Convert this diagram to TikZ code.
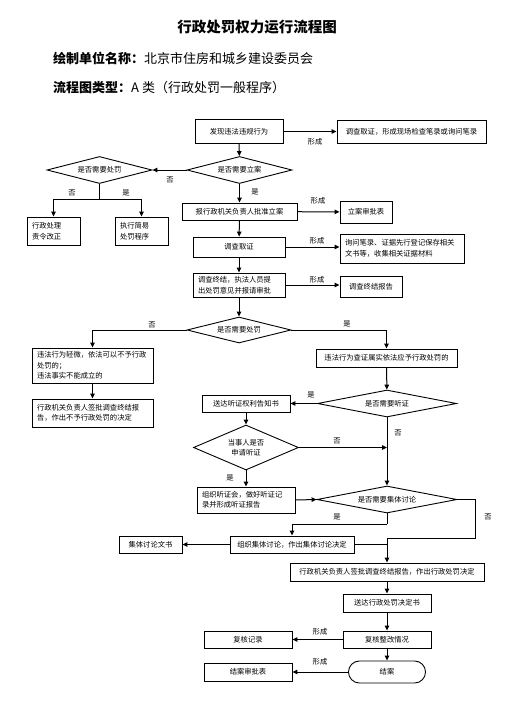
\documentclass[tikz,border=0pt]{standalone}
\usepackage{fontspec}
\setmainfont{Noto Sans CJK SC}
\usetikzlibrary{shapes.geometric,arrows.meta}
\tikzset{
 txt/.style={font=\fontsize{7.3}{10.5}\selectfont},
 box/.style={txt,draw,line width=0.9pt,inner sep=0pt,align=center},
 lbox/.style={txt,draw,line width=0.9pt,inner xsep=5pt,inner ysep=0pt,align=left},
 dia/.style={txt,draw,diamond,aspect=3.5,line width=0.9pt,inner sep=0pt,align=center},
 lab/.style={font=\fontsize{7.3}{9}\selectfont,inner sep=0pt},
 arr/.style={-{Triangle[length=5pt,width=4.5pt]},line width=1pt},
 ln/.style={line width=1pt}
}
\begin{document}
\begin{tikzpicture}[x=1pt,y=-1pt]
\useasboundingbox[fill=white] (0,0) rectangle (514,704);
% header
\node[font=\bfseries\fontsize{14.5}{16}\selectfont] (title) at (257,27) {行政处罚权力运行流程图};
\node[anchor=west,font=\fontsize{13}{15}\selectfont,inner sep=0pt] (h1) at (53,58) {\textbf{绘制单位名称：}北京市住房和城乡建设委员会};
\node[anchor=west,font=\fontsize{13}{15}\selectfont,inner sep=0pt] (h2) at (53,88) {\textbf{流程图类型：}A 类（行政处罚一般程序）};
% nodes
\node[box,minimum width=88,minimum height=24] (n1) at (239,131.5) {发现违法违规行为};
\node[box,minimum width=149,minimum height=23] (n2) at (411.5,131.5) {调查取证，形成现场检查笔录或询问笔录};
\node[dia,minimum width=105,minimum height=27] (d1) at (239.5,170) {是否需要立案};
\node[dia,minimum width=105,minimum height=27] (d0) at (99.5,170) {是否需要处罚};
\node[lbox,text width=43,minimum height=28] (b1) at (53.5,231) {行政处理\\责令改正};
\node[lbox,text width=43,minimum height=28] (b2) at (141.5,231) {执行简易\\处罚程序};
\node[box,minimum width=115,minimum height=17] (n3) at (239.5,211.5) {报行政机关负责人批准立案};
\node[box,minimum width=52,minimum height=22] (n4) at (366,212) {立案审批表};
\node[box,minimum width=92,minimum height=20] (n5) at (239,247) {调查取证};
\node[lbox,text width=114,minimum height=29] (n6) at (402,248.5) {询问笔录、证据先行登记保存相关\\文书等，收集相关证据材料};
\node[lbox,text width=82,minimum height=24] (n7) at (239,285) {调查终结，执法人员提\\出处罚意见并报请审批};
\node[box,minimum width=62,minimum height=21] (n8) at (371,286.5) {调查终结报告};
\node[dia,minimum width=104,minimum height=26] (d2) at (239,330) {是否需要处罚};
\node[box,minimum width=141,minimum height=18] (n9) at (386.5,358) {违法行为查证属实依法应予行政处罚的};
\node[lbox,text width=111,minimum height=35] (n10) at (92.5,365.5) {违法行为轻微，依法可以不予行政\\处罚的；\\违法事实不能成立的};
\node[lbox,text width=111,minimum height=28] (n11) at (92.5,413) {行政机关负责人签批调查终结报\\告，作出不予行政处罚的决定};
\node[dia,minimum width=139,minimum height=27] (d3) at (387,403.5) {是否需要听证};
\node[box,minimum width=88,minimum height=17] (n12) at (246,403.5) {送达听证权利告知书};
\node[dia,aspect=2.3,minimum width=105,minimum height=45] (d4) at (246,447.5) {当事人是否\\申请听证};
\node[lbox,text width=88,minimum height=26] (n13) at (246,500) {组织听证会，做好听证记\\录并形成听证报告};
\node[dia,minimum width=140,minimum height=27] (d5) at (387,499.5) {是否需要集体讨论};
\node[box,minimum width=124,minimum height=17] (n14) at (292,544.5) {组织集体讨论，作出集体讨论决定};
\node[box,minimum width=63,minimum height=17] (n15) at (150.5,544.5) {集体讨论文书};
\node[box,minimum width=194,minimum height=18] (n16) at (387,572) {行政机关负责人签批调查终结报告，作出行政处罚决定};
\node[box,minimum width=88,minimum height=18] (n17) at (387,603) {送达行政处罚决定书};
\node[box,minimum width=88,minimum height=17] (n18) at (387,639.5) {复核整改情况};
\node[box,minimum width=88,minimum height=17] (n19) at (248,639.5) {复核记录};
\node[box,rounded corners=10.9pt,minimum width=77,minimum height=22] (n20) at (387,672) {结案};
\node[box,minimum width=88,minimum height=18] (n21) at (248,672) {结案审批表};
% coordinates
\coordinate (j1) at (99.5,199);
\coordinate (j2) at (387,524);
\coordinate (j3) at (475,499.5);
\coordinate (j4) at (475,538);
\coordinate (j5) at (387,538);
\coordinate (j6) at (387,544.5);
% connectors
\draw[arr] (n1) -- (n2);
\draw[arr] (n1) -- (d1);
\draw[arr] (d1) -- (d0);
\draw[ln] (d0.south) -- (j1);
\draw[arr] (j1) -| (b1.north);
\draw[arr] (j1) -| (b2.north);
\draw[arr] (d1) -- (n3);
\draw[arr] (n3) -- (n4);
\draw[arr] (n3) -- (n5);
\draw[arr] (n5) -- (n6.west |- n5.east);
\draw[arr] (n5) -- (n7);
\draw[arr] (n7) -- (n8.west |- n7.east);
\draw[arr] (n7) -- (d2);
\draw[arr] (d2.east) -| (n9.north);
\draw[arr] (d2.west) -| (n10.north);
\draw[arr] (n10) -- (n11);
\draw[arr] (n9) -- (d3);
\draw[arr] (d3) -- (n12);
\draw[arr] (d3) -- (d5);
\draw[arr] (n12) -- (d4);
\draw[arr] (d4.east) -- (d4.east -| d3.south);
\draw[arr] (d4) -- (n13);
\draw[arr] (n13.east) -- (d5.west);
\draw[ln] (d5.south) -- (j2);
\draw[arr] (j2) -| (n14.north);
\draw[ln] (d5.east) -- (j3) -- (j4) -- (j5);
\draw[arr] (j5) -- (n16.north);
\draw[ln] (n14.east) -- (j6);
\draw[arr] (n14) -- (n15);
\draw[arr] (n16) -- (n17);
\draw[arr] (n17) -- (n18);
\draw[arr] (n18) -- (n20);
\draw[arr] (n18) -- (n19);
\draw[arr] (n20) -- (n21);
% labels
\node[lab] (l1) at (315,142) {形成};
\node[lab] (l2) at (170,180) {否};
\node[lab] (l3) at (72,193) {否};
\node[lab] (l4) at (126,193) {是};
\node[lab] (l5) at (255,192) {是};
\node[lab] (l6) at (318,201) {形成};
\node[lab] (l7) at (317,241) {形成};
\node[lab] (l8) at (317,280) {形成};
\node[lab] (l9) at (347,324) {是};
\node[lab] (l10) at (152,325) {否};
\node[lab] (l11) at (311,395) {是};
\node[lab] (l12) at (398,433) {否};
\node[lab] (l13) at (337,441) {否};
\node[lab] (l14) at (230,478) {是};
\node[lab] (l15) at (337,517) {是};
\node[lab] (l16) at (488,517) {否};
\node[lab] (l17) at (320,632) {形成};
\node[lab] (l18) at (320,662) {形成};
\end{tikzpicture}
\end{document}
